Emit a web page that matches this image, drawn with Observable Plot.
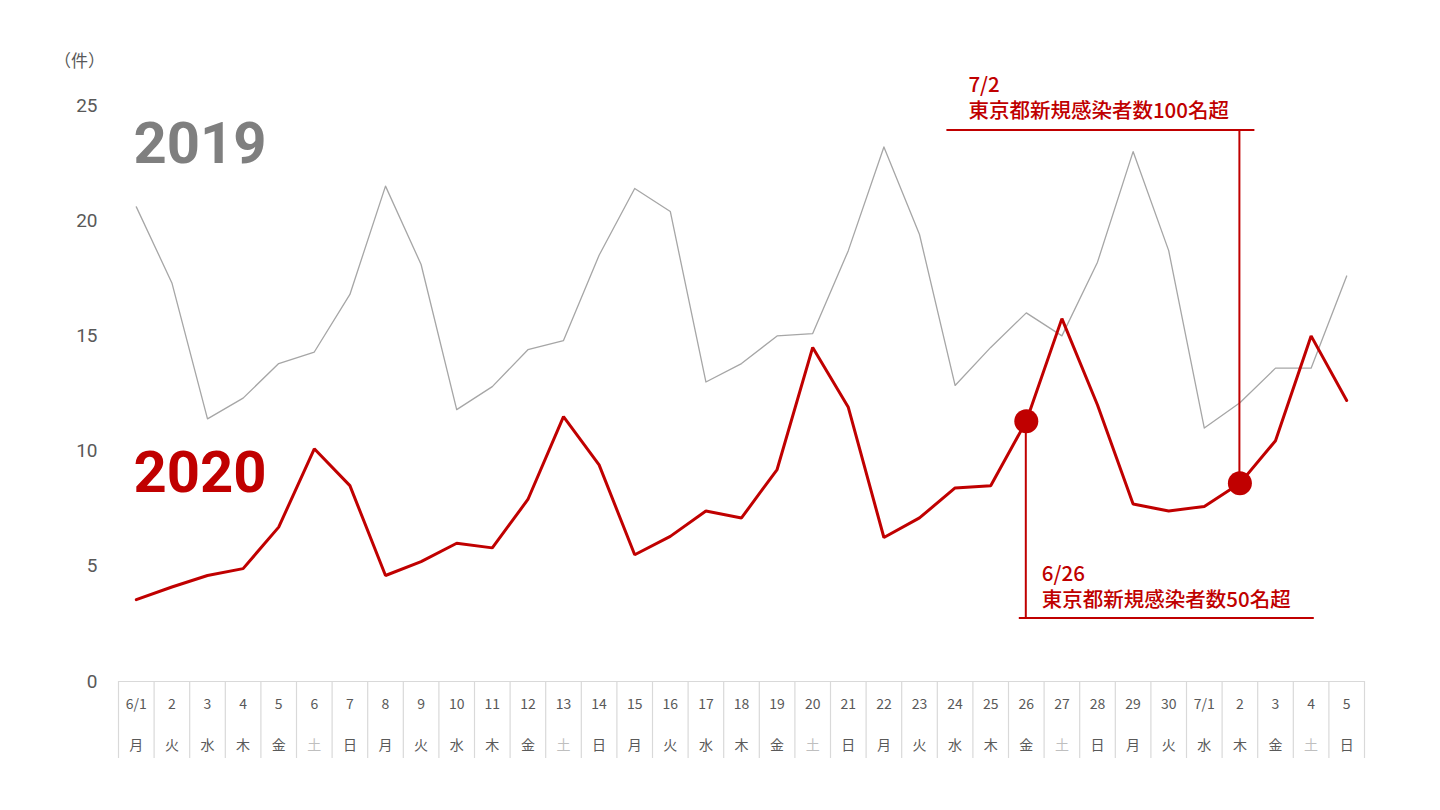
<!DOCTYPE html>
<html>
<head>
<meta charset="utf-8">
<script src="https://cdn.jsdelivr.net/npm/d3@7"></script>
<script src="https://cdn.jsdelivr.net/npm/@observablehq/plot@0.6"></script>
<style>
  html, body { margin: 0; padding: 0; background: #fff; overflow: hidden; }
  #chart svg { display: block; }
</style>
</head>
<body>
<div id="chart"></div>
<script>
// ---- data ----
const dates = ["6/1","2","3","4","5","6","7","8","9","10","11","12","13","14","15","16","17","18","19","20","21","22","23","24","25","26","27","28","29","30","7/1","2","3","4","5"];
const weekdays = ["月","火","水","木","金","土","日","月","火","水","木","金","土","日","月","火","水","木","金","土","日","月","火","水","木","金","土","日","月","火","水","木","金","土","日"];
const values2019 = [20.6,17.3,11.4,12.3,13.8,14.3,16.8,21.5,18.1,11.8,12.8,14.4,14.8,18.5,21.4,20.4,13.0,13.8,15.0,15.1,18.7,23.2,19.4,12.85,14.5,16.0,15.0,18.2,23.0,18.7,11.0,12.1,13.6,13.6,17.6];
const values2020 = [3.55,4.1,4.6,4.9,6.7,10.1,8.5,4.6,5.2,6.0,5.8,7.9,11.5,9.4,5.5,6.3,7.4,7.1,9.2,14.5,11.9,6.25,7.1,8.4,8.5,11.3,15.75,12.0,7.7,7.4,7.6,8.6,10.45,15.0,12.2];
const yTicks = [0,5,10,15,20,25];
const yUnit = "（件）";
const seriesLabels = ["2019","2020"];
const calloutDates = ["6/26","7/2"];
const calloutIndex = [25,31];
const calloutTexts = ["東京都新規感染者数50名超","東京都新規感染者数100名超"];

// ---- styles ----
const GRAY = "#a6a6a6", RED = "#c00000", TXT = "#595959", GRID = "#d9d9d9";
const rows = dates.map((d, i) => ({i, date: d, wd: weekdays[i], y19: values2019[i], y20: values2020[i]}));
const callouts = calloutDates.map((d, k) => ({date: d, i: calloutIndex[k], text: calloutTexts[k], v: values2020[calloutIndex[k]], side: k === 0 ? "below" : "above"}));
const boundaries = d3.range(dates.length + 1).map(k => k - 0.5);

function calloutMark(index, scales, values, dims) {
  const g = d3.create("svg:g").attr("fill", "none");
  const top = dims.marginTop, bottom = dims.height - dims.marginBottom;
  for (const c of callouts) {
    const cx = scales.x(c.i), cy = scales.y(c.v);
    let yLine, x1, x2, tx, ty;
    if (c.side === "below") {
      yLine = bottom - 63; x1 = cx - 7; x2 = cx + 288; tx = cx + 16; ty = yLine - 37;
    } else {
      yLine = top + 25; x1 = cx - 293; x2 = cx + 15; tx = cx - 271; ty = yLine - 38;
    }
    g.append("line").attr("x1", cx).attr("x2", cx).attr("y1", cy).attr("y2", yLine).attr("stroke", RED).attr("stroke-width", 2);
    g.append("line").attr("x1", x1).attr("x2", x2).attr("y1", yLine).attr("y2", yLine).attr("stroke", RED).attr("stroke-width", 2);
    const t = g.append("text").attr("fill", RED).attr("font-family", "'Noto Sans CJK JP', sans-serif")
      .attr("font-size", 20.5).attr("font-weight", 500).attr("text-anchor", "start")
      .attr("x", tx).attr("y", ty);
    t.append("tspan").attr("x", tx).text(c.date);
    t.append("tspan").attr("x", tx).attr("dy", 26).text(c.text);
  }
  return g.node();
}

const chart = Plot.plot({
  width: 1440,
  height: 810,
  marginLeft: 118,
  marginRight: 76,
  marginTop: 105,
  marginBottom: 129,
  style: {fontFamily: "'Noto Sans CJK JP', sans-serif", background: "#fff", overflow: "visible"},
  x: {domain: [-0.5, dates.length - 0.5], axis: null},
  y: {domain: [0, 25], axis: null},
  marks: [
    Plot.axisY({ticks: yTicks, tickSize: 0, tickPadding: 21, fontSize: 19, fill: TXT, fontFamily: "Roboto, sans-serif", label: null}),
    Plot.text([yUnit], {frameAnchor: "top-left", lineAnchor: "middle", textAnchor: "middle", dx: -39, dy: -44, fontSize: 17, fill: TXT}),
    // date table
    Plot.ruleY([0], {stroke: GRID, strokeWidth: 1.2}),
    Plot.axisX({ticks: boundaries, tickSize: 77, tickFormat: () => "", stroke: GRID, strokeWidth: 1.2, label: null}),
    Plot.text(rows, {x: "i", text: "date", frameAnchor: "bottom", lineAnchor: "middle", dy: 23, fontSize: 14, fill: TXT}),
    Plot.text(rows, {x: "i", text: "wd", frameAnchor: "bottom", lineAnchor: "middle", dy: 64, fontSize: 14, fill: d => d.wd === "土" ? "#bfbfbf" : TXT}),
    // series
    Plot.line(rows, {x: "i", y: "y19", stroke: GRAY, strokeWidth: 1.3}),
    Plot.line(rows, {x: "i", y: "y20", stroke: RED, strokeWidth: 3, strokeLinejoin: "miter"}),
    // series labels
    Plot.text([seriesLabels[0]], {frameAnchor: "top-left", lineAnchor: "middle", dx: 15, dy: 39, textAnchor: "start", fontSize: 58, fontWeight: "bold", fontFamily: "Roboto, sans-serif", fill: "#7f7f7f"}),
    Plot.text([seriesLabels[1]], {frameAnchor: "top-left", lineAnchor: "middle", dx: 15, dy: 368, textAnchor: "start", fontSize: 58, fontWeight: "bold", fontFamily: "Roboto, sans-serif", fill: RED}),
    // callouts
    calloutMark,
    Plot.dot(callouts, {x: "i", y: "v", r: 12, fill: RED, stroke: "none"})
  ]
});
document.getElementById("chart").append(chart);
</script>
</body>
</html>
